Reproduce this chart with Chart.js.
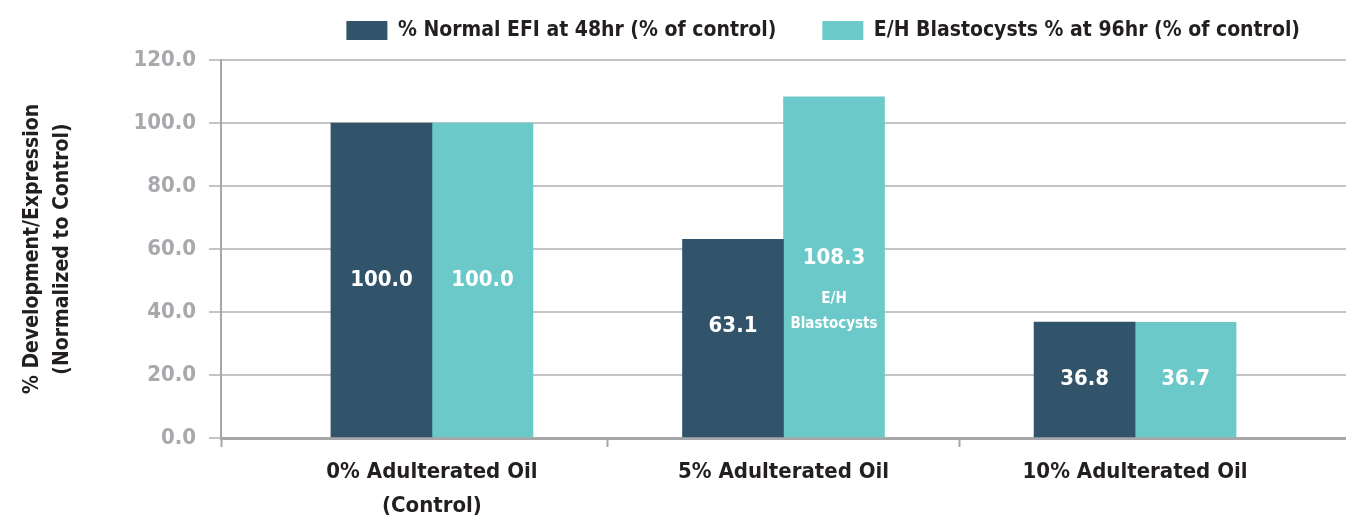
<!DOCTYPE html>
<html>
<head>
<meta charset="utf-8">
<script src="https://cdn.jsdelivr.net/npm/chart.js@4"></script>
<style>
  html, body { margin: 0; padding: 0; background: #fff; }
  #wrap { width: 1346px; height: 519px; position: relative; }
</style>
</head>
<body>
<div id="wrap"><canvas id="chart"></canvas></div>
<script>
// categories (index on the x axis)
const categories = [['0% Adulterated Oil', '(Control)'], '5% Adulterated Oil', '10% Adulterated Oil'];
const seriesNames = ['% Normal EFI at 48hr (% of control)', 'E/H Blastocysts % at 96hr (% of control)'];
const normalEfi = [100.0, 63.1, 36.8];
const ehBlasto = [100.0, 108.3, 36.7];
const ehNotes = [null, ['E/H', 'Blastocysts'], null];
const yTicks = [0, 20, 40, 60, 80, 100, 120];
const yTitle = ['% Development/Expression', '(Normalized to Control)'];

const FONT = '"DejaVu Sans Condensed", "DejaVu Sans", sans-serif';
const DARK = '#31546b';
const TEAL = '#6bc9ca';
const AXIS = '#a7a7aa';
const GRID = '#c4c4c6';
const TEXT = '#231f20';

// boundary tick marks between categories + the label positions
const xTickVals = [-0.6, 0, 0.5, 1, 1.5, 2];

// values written inside the bars
const barLabels = {
  id: 'barLabels',
  afterDatasetsDraw(chart) {
    const ctx = chart.ctx;
    const dsets = chart.data.datasets;
    // where a note's last line sits, per category (neighbour labels line up with it)
    const noteBottom = {};
    ctx.save();
    ctx.fillStyle = '#fff';
    ctx.textAlign = 'center';
    ctx.textBaseline = 'middle';
    dsets.forEach((ds, di) => {
      chart.getDatasetMeta(di).data.forEach((bar, i) => {
        const note = ds.notes ? ds.notes[i] : null;
        if (!note) return;
        const mid = (bar.y + bar.base) / 2;
        ctx.font = `bold 22px ${FONT}`;
        ctx.fillText(ds.data[i].y.toFixed(1), bar.x, mid - 9);
        ctx.font = `bold 15px ${FONT}`;
        note.forEach((line, k) => ctx.fillText(line, bar.x, mid + 32 + k * 25));
        noteBottom[i] = mid + 32 + (note.length - 1) * 25;
      });
    });
    dsets.forEach((ds, di) => {
      chart.getDatasetMeta(di).data.forEach((bar, i) => {
        if (ds.notes && ds.notes[i]) return;
        const mid = (bar.y + bar.base) / 2;
        const y = noteBottom[i] !== undefined ? noteBottom[i] + 2 : mid;
        ctx.font = `bold 22px ${FONT}`;
        ctx.fillText(ds.data[i].y.toFixed(1), bar.x, y);
      });
    });
    ctx.restore();
  }
};

// a bit of room under the legend
const legendGap = {
  id: 'legendGap',
  beforeInit(chart) {
    const fit = chart.legend.fit;
    chart.legend.fit = function () {
      fit.bind(chart.legend)();
      this.height += 9;
    };
  }
};

new Chart(document.getElementById('chart'), {
  type: 'bar',
  data: {
    datasets: [{
      label: seriesNames[0],
      data: normalEfi.map((v, i) => ({ x: i, y: v })),
      backgroundColor: DARK
    }, {
      label: seriesNames[1],
      data: ehBlasto.map((v, i) => ({ x: i, y: v })),
      notes: ehNotes,
      backgroundColor: TEAL
    }]
  },
  options: {
    responsive: true,
    maintainAspectRatio: false,
    animation: false,
    barThickness: 101,
    layout: { padding: { top: -26, right: 0, left: 0, bottom: 0 } },
    plugins: {
      tooltip: { enabled: false },
      legend: {
        position: 'top',
        align: 'end',
        fullSize: false,
        labels: {
          boxWidth: 41,
          boxHeight: 19,
          padding: 46,
          color: TEXT,
          font: { family: FONT, size: 21, weight: 'bold' }
        }
      }
    },
    scales: {
      x: {
        type: 'linear',
        offset: false,
        min: -0.6,
        max: 2.6,
        afterBuildTicks: s => { s.ticks = xTickVals.map(v => ({ value: v })); },
        afterFit: s => { s.height = 81; },
        ticks: {
          autoSkip: false,
          maxRotation: 0,
          padding: 8,
          color: TEXT,
          font: { family: FONT, size: 22, weight: 'bold', lineHeight: 1.55 },
          callback: v => Number.isInteger(v) ? categories[v] : ''
        },
        grid: {
          offset: false,
          drawOnChartArea: false,
          tickLength: 9,
          tickWidth: 2,
          tickColor: c => (c.tick && Number.isInteger(c.tick.value)) ? 'rgba(0,0,0,0)' : AXIS
        },
        border: { color: AXIS, width: 3 }
      },
      y: {
        min: 0,
        max: 120,
        afterBuildTicks: s => { s.ticks = yTicks.map(v => ({ value: v })); },
        afterFit: s => { s.width = 221; },
        ticks: {
          padding: 13,
          color: '#a7a9ac',
          font: { family: FONT, size: 22, weight: 'bold' },
          callback: v => v.toFixed(1)
        },
        grid: {
          color: GRID,
          lineWidth: 2,
          tickLength: 12
        },
        border: { color: AXIS, width: 2 },
        title: {
          display: true,
          text: yTitle,
          color: TEXT,
          font: { family: FONT, size: 21, weight: 'bold', lineHeight: 1.45 },
          padding: { top: 17, bottom: 0 }
        }
      }
    }
  },
  plugins: [barLabels, legendGap]
});
</script>
</body>
</html>
